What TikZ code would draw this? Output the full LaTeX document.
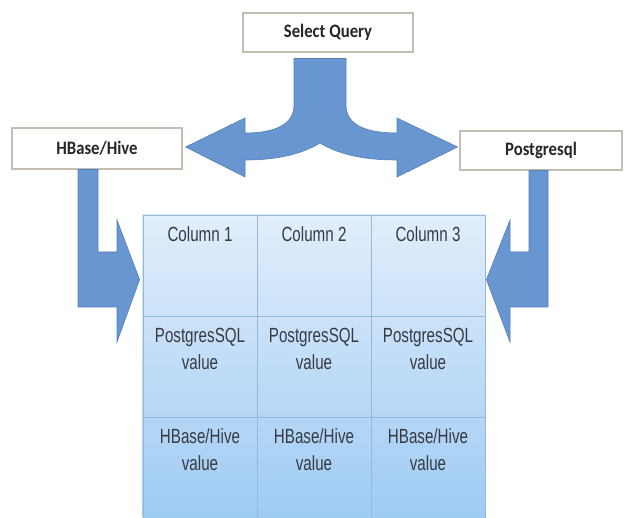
\documentclass[tikz,border=0pt]{standalone}
\usepackage{fontspec}
\setmainfont{Liberation Sans}
\newfontfamily\cellfont[FakeStretch=0.74]{Liberation Sans}
\newfontfamily\boxfont[FakeStretch=0.88]{Carlito}
\usetikzlibrary{calc,positioning,backgrounds}
\definecolor{arrB}{RGB}{104,150,208}
\definecolor{arrE}{RGB}{84,128,186}
\definecolor{tblTop}{RGB}{226,238,251}
\definecolor{tblBot}{RGB}{158,203,244}
\definecolor{tblLine}{RGB}{150,184,218}
\definecolor{boxE}{RGB}{196,190,178}
\definecolor{txtG}{RGB}{55,58,66}
\tikzset{
  labelbox/.style={draw=boxE,line width=1.1pt,fill=white,inner sep=0pt,
    font=\boxfont\bfseries\fontsize{19}{22}\selectfont,text=black!85},
  cell/.style={draw=tblLine,line width=0.8pt,inner sep=0pt,
    minimum width=114pt,minimum height=101pt},
  celltext/.style={font=\cellfont\fontsize{20.5}{27}\selectfont,text=txtG,
    align=center,anchor=base,inner sep=0pt},
  blockarrow/.style={fill=arrB,draw=arrE,line width=0.6pt,line join=miter}
}

\begin{document}
\begin{tikzpicture}[x=1pt,y=-1pt]
\useasboundingbox (0,0) rectangle (624,518);
% the three source boxes
\node[labelbox,minimum width=170pt,minimum height=39pt] (sq) at (328,32.5) {Select Query};
\node[labelbox,minimum width=170pt,minimum height=41pt] (hb) at (97,148.5) {HBase/Hive};
\node[labelbox,minimum width=162pt,minimum height=39pt] (pg) at (541,150.5) {Postgresql};
% result table, 3 columns x 3 rows (base of a node = its last line)
\foreach \col/\x in {1/200,2/314,3/428}{
  \foreach \row/\y/\dy/\txt in {1/265.5/27/{Column \col},2/366.5/54/{PostgresSQL\\value},3/467.5/54/{HBase/Hive\\value}}{
    \node[cell] (c\row\col) at (\x,\y) {};
    \node[celltext] (t\row\col) at ($(c\row\col.north)+(0,\dy)$) {\txt};
  }
}
\begin{scope}[on background layer]
\shade[top color=tblTop,bottom color=tblBot] (c11.north west) rectangle (c33.south east);
\end{scope}
% fork from the query to both stores
\draw[blockarrow] ($(sq.south)+(-34,6)$) -- (294,105)
  .. controls (294,126) and (272,133) .. (245,133) -- (245,118)
  -- ($(hb.east)+(3,-1.5)$) -- (245,177) -- (245,160)
  .. controls (283,160) and (305,152) .. (320,143)
  .. controls (335,152) and (357,160) .. (397,160) -- (397,177)
  -- ($(pg.west)+(-2,-3.5)$) -- (397,118) -- (397,133)
  .. controls (368,133) and (346,126) .. (346,105) -- ($(sq.south)+(18,6)$) -- cycle;
% values flowing back into the table
\draw[blockarrow] ($(hb.south)+(-19,0)$) -- ($(hb.south)+(1,0)$) -- (98,252) -- (117,252)
  -- (117,220) -- ($(c11.north west)+(-3,65)$) -- (117,342) -- (117,307) -- (78,307) -- cycle;
\draw[blockarrow] ($(pg.south)+(7,0)$) -- ($(pg.south)+(-12,0)$) -- (529,252) -- (510,252)
  -- (510,220) -- ($(c13.north east)+(1,65)$) -- (510,342) -- (510,307) -- (548,307) -- cycle;
\end{tikzpicture}
\end{document}
